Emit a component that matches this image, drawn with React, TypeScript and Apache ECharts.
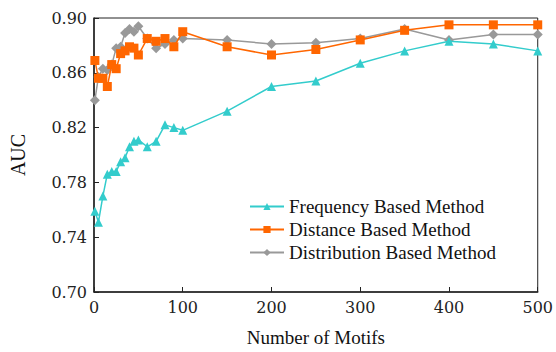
import React, { useEffect, useRef } from "react";
import * as echarts from "echarts";

const motifs = [1, 5, 10, 15, 20, 25, 30, 35, 40, 45, 50, 60, 70, 80, 90, 100, 150, 200, 250, 300, 350, 400, 450, 500];
const frequencyAUC = [0.759, 0.751, 0.770, 0.786, 0.788, 0.788, 0.795, 0.798, 0.806, 0.810, 0.811, 0.806, 0.810, 0.822, 0.820, 0.818, 0.832, 0.850, 0.854, 0.867, 0.876, 0.883, 0.881, 0.876];
const distanceAUC = [0.869, 0.856, 0.856, 0.850, 0.866, 0.863, 0.874, 0.876, 0.879, 0.878, 0.873, 0.885, 0.883, 0.885, 0.879, 0.890, 0.879, 0.873, 0.877, 0.884, 0.891, 0.895, 0.895, 0.895];
const distributionAUC = [0.840, 0.857, 0.863, 0.862, 0.866, 0.878, 0.879, 0.889, 0.892, 0.890, 0.894, 0.885, 0.878, 0.881, 0.884, 0.885, 0.884, 0.881, 0.882, 0.885, 0.892, 0.884, 0.888, 0.888];
const yTicks = [0.70, 0.74, 0.78, 0.82, 0.86, 0.90];
const seriesNames = ["Frequency Based Method", "Distance Based Method", "Distribution Based Method"];
const colors = ["#33CCCC", "#FF6600", "#999999"];
const symbols = ["triangle", "rect", "diamond"];

export default function App() {
  const ref = useRef<HTMLDivElement>(null);
  useEffect(() => {
    if (!ref.current) return;
    const chart = echarts.init(ref.current, null, { renderer: "svg" });
    const values = [frequencyAUC, distanceAUC, distributionAUC];
    const axisFont = { fontFamily: "DejaVu Serif", fontSize: 16, color: "#222" };
    chart.setOption({
      animation: false,
      backgroundColor: "#fff",
      grid: { left: 91, right: 16, top: 18, bottom: 54, show: true, borderColor: "#222", borderWidth: 1 },
      legend: {
        orient: "vertical",
        left: 249,
        top: 197,
        padding: 0,
        itemWidth: 34,
        itemHeight: 9,
        itemGap: 4,
        textStyle: { fontFamily: "Liberation Serif", fontSize: 19, color: "#111" },
        data: seriesNames,
      },
      xAxis: {
        type: "value",
        min: 0,
        max: 500,
        interval: 100,
        name: "Number of Motifs",
        nameLocation: "middle",
        nameGap: 36,
        nameTextStyle: { fontFamily: "Liberation Serif", fontSize: 19, color: "#111" },
        axisLine: { lineStyle: { color: "#222", width: 1.5 } },
        axisTick: { inside: true, length: 5, lineStyle: { color: "#222" } },
        axisLabel: { ...axisFont, margin: 7 },
        splitLine: { show: false },
      },
      yAxis: {
        type: "value",
        min: 0.7,
        max: 0.9,
        name: "AUC",
        nameLocation: "middle",
        nameGap: 66,
        nameTextStyle: { fontFamily: "Liberation Serif", fontSize: 20, color: "#111" },
        axisLine: { show: true, lineStyle: { color: "#222", width: 1.5 } },
        axisTick: { inside: true, length: 5, lineStyle: { color: "#222" }, customValues: yTicks },
        axisLabel: { ...axisFont, margin: 7, customValues: yTicks, formatter: (v: number) => v.toFixed(2) },
        splitLine: { show: false },
      },
      series: seriesNames.map((name, i) => ({
        name,
        type: "line",
        data: motifs.map((m, j) => [m, values[i][j]]),
        symbol: symbols[i],
        symbolSize: i === 2 ? 10 : 9,
        itemStyle: { color: colors[i] },
        lineStyle: { color: colors[i], width: 1.5 },
        z: 3 - i,
      })),
    });
    return () => chart.dispose();
  }, []);
  return <div ref={ref} style={{ position: "absolute", left: 0, top: 0, width: 556, height: 352 }} />;
}
